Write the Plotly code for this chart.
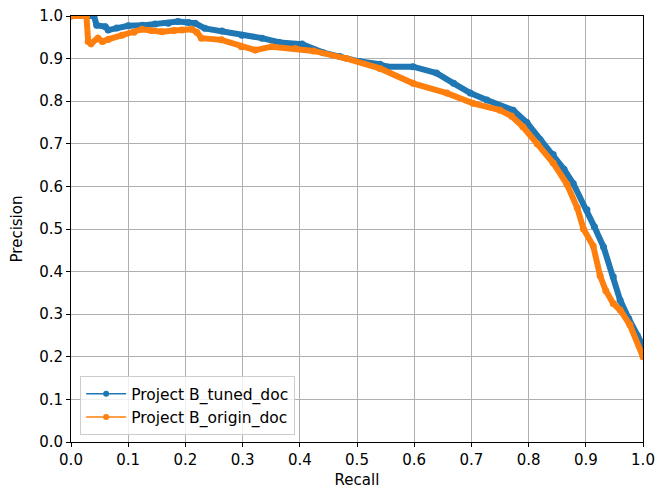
import plotly.graph_objects as go

# Project B_tuned_doc (blue)
tuned_recall = [0.0, 0.04, 0.045, 0.06, 0.065, 0.08, 0.1, 0.125, 0.147, 0.17, 0.187, 0.205, 0.217,
                0.234, 0.264, 0.299, 0.334, 0.365, 0.404, 0.441, 0.47, 0.505, 0.54, 0.552, 0.598,
                0.639, 0.669, 0.698, 0.727, 0.773, 0.797, 0.82, 0.843, 0.862, 0.878, 0.902, 0.915,
                0.931, 0.948, 0.96, 0.975, 0.99, 1.0]
tuned_precision = [1.0, 1.0, 0.978, 0.975, 0.967, 0.972, 0.977, 0.978, 0.981, 0.983, 0.987, 0.985, 0.983,
                   0.971, 0.965, 0.955, 0.948, 0.938, 0.934, 0.914, 0.905, 0.893, 0.887, 0.881, 0.881,
                   0.866, 0.842, 0.819, 0.803, 0.779, 0.75, 0.71, 0.675, 0.64, 0.607, 0.545, 0.505,
                   0.458, 0.388, 0.333, 0.29, 0.25, 0.225]

# Project B_origin_doc (orange)
origin_recall = [0.0, 0.027, 0.03, 0.035, 0.047, 0.055, 0.065, 0.089, 0.11, 0.124, 0.14, 0.159, 0.18,
                 0.194, 0.211, 0.22, 0.228, 0.263, 0.298, 0.322, 0.351, 0.392, 0.424, 0.482, 0.54,
                 0.598, 0.657, 0.703, 0.75, 0.77, 0.79, 0.815, 0.843, 0.867, 0.885, 0.896, 0.913,
                 0.925, 0.935, 0.948, 0.96, 0.977, 1.0]
origin_precision = [1.0, 1.0, 0.94, 0.935, 0.948, 0.94, 0.945, 0.955, 0.962, 0.969, 0.966, 0.963, 0.966,
                    0.967, 0.969, 0.962, 0.948, 0.944, 0.928, 0.92, 0.928, 0.924, 0.918, 0.9, 0.877,
                    0.842, 0.819, 0.795, 0.779, 0.765, 0.74, 0.70, 0.655, 0.605, 0.55, 0.5, 0.46,
                    0.39, 0.355, 0.325, 0.31, 0.275, 0.2]

tick_vals = [0.0, 0.1, 0.2, 0.3, 0.4, 0.5, 0.6, 0.7, 0.8, 0.9, 1.0]
tick_text = ["0.0", "0.1", "0.2", "0.3", "0.4", "0.5", "0.6", "0.7", "0.8", "0.9", "1.0"]

BLUE = "#1f77b4"
ORANGE = "#ff7f0e"
FONT = "DejaVu Sans"
FS = 15

fig = go.Figure()
for xs, ys, col in [(tuned_recall, tuned_precision, BLUE),
                    (origin_recall, origin_precision, ORANGE)]:
    fig.add_trace(go.Scatter(x=xs, y=ys, mode="lines+markers", showlegend=False,
                             line=dict(color=col, width=6, shape="linear"),
                             marker=dict(color=col, size=7)))
for name, col in [("Project B_tuned_doc", BLUE), ("Project B_origin_doc", ORANGE)]:
    fig.add_trace(go.Scatter(x=[None], y=[None], mode="lines+markers", name=name,
                             line=dict(color=col, width=1.5), marker=dict(color=col, size=6)))

axis_common = dict(range=[0, 1], tickvals=tick_vals, ticktext=tick_text,
                   showgrid=True, gridcolor="#b0b0b0", gridwidth=0.8,
                   showline=True, linecolor="black", linewidth=1, mirror=True,
                   ticks="outside", ticklen=4, tickcolor="black", tickwidth=1,
                   zeroline=False, automargin=False, ticklabeloverflow="allow",
                   tickfont=dict(family=FONT, size=FS, color="black"))

# page has an 8px body margin; plot area sits at x 71..643, y 16..442 of the page
fig.update_layout(
    width=663, height=491,
    margin=dict(l=63, r=28, t=8, b=57),
    paper_bgcolor="white", plot_bgcolor="white",
    font=dict(family=FONT, size=FS, color="black"),
    xaxis=dict(title=dict(text="Recall", font=dict(family=FONT, size=FS), standoff=6), **axis_common),
    yaxis=dict(title=dict(text="Precision", font=dict(family=FONT, size=FS), standoff=14), **axis_common),
    legend=dict(x=0.016, y=0.016, xanchor="left", yanchor="bottom",
                bgcolor="rgba(255,255,255,0.8)", bordercolor="#cccccc", borderwidth=1,
                font=dict(family=FONT, size=15.5), itemwidth=40, tracegroupgap=0),
)

fig.write_html("out.html")
